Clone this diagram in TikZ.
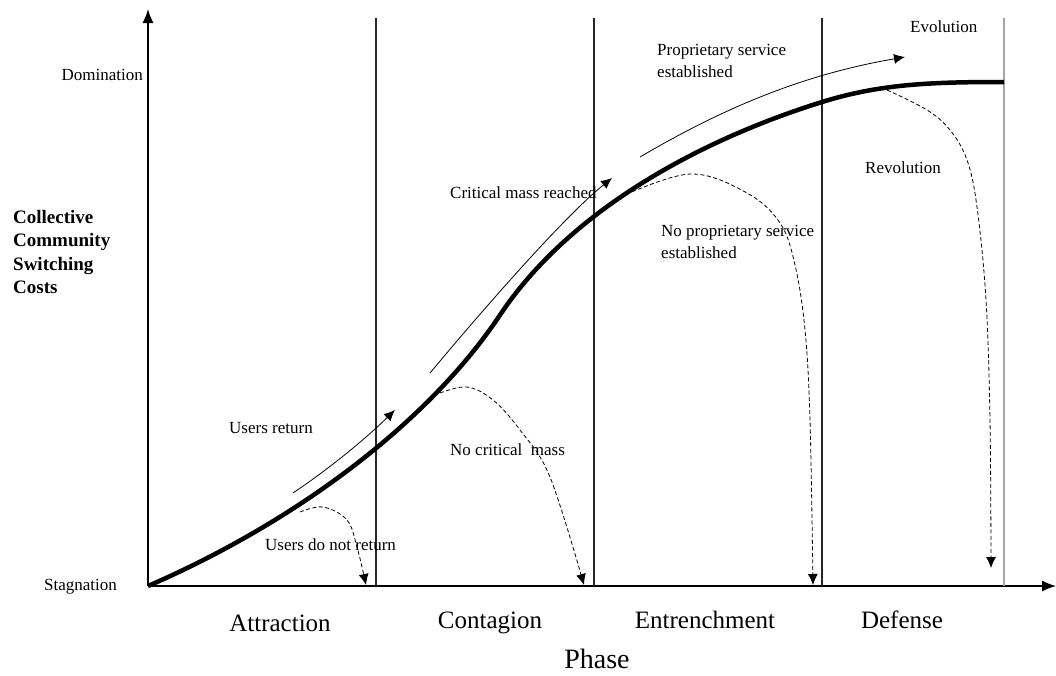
\documentclass[tikz,border=0pt]{standalone}
\usepackage{fontspec}
\setmainfont{Liberation Serif}
\usetikzlibrary{arrows.meta}
\tikzset{
  small/.style={font=\fontsize{17}{22}\selectfont, inner sep=0pt},
  phase/.style={font=\fontsize{25}{30}\selectfont, inner sep=0pt, anchor=base},
  divider/.style={line width=1.3pt, black!85},
  way/.style={-{Latex[length=11pt,width=10pt]}, line width=0.8pt},
  fail/.style={-{Latex[length=11pt,width=10pt]}, line width=0.8pt, dash pattern=on 4pt off 2.5pt},
}
\begin{document}
\begin{tikzpicture}[x=1pt,y=-1pt]
\useasboundingbox (0,0) rectangle (1056,675);
% axes
\coordinate (o) at (148,586);
\coordinate (ytop) at (148,9);
\coordinate (xend) at (1056,586);
\draw[line width=1.4pt, -{Latex[length=14pt,width=11pt]}] (o) -- (ytop);
\draw[line width=1.4pt, -{Latex[length=14pt,width=11pt]}] (o) -- (xend);
% phase borders
\draw[divider] (376,18) -- (376,586);
\draw[divider] (594,18) -- (594,586);
\draw[divider] (822,18) -- (822,586);
\draw[divider, black!35] (1004,18) -- (1004,586);
% the switching cost curve
\coordinate (bend) at (500,315);
\coordinate (top) at (822,102);
\draw[line width=4.5pt] (o) .. controls (300,520) and (430,420) .. (bend)
  .. controls (570,210) and (700,140) .. (top)
  .. controls (880,84) and (930,82) .. (1004,82);
% paths that go on
\draw[way] (293,493) .. controls (327,470) and (361,443) .. (395,410);
\draw[way] (430,373) .. controls (470,325) and (560,220) .. (612,178);
\draw[way] (640,157) .. controls (720,110) and (800,75) .. (905,57);
% paths that drop out
\draw[fail] plot[smooth, tension=0.6] coordinates {(300,512) (323,507) (347,520) (357,547) (366,585)};
\draw[fail] plot[smooth, tension=0.6] coordinates {(440,393) (467,387) (493,400) (520,430) (550,477) (584,585)};
\draw[fail] plot[smooth, tension=0.6] coordinates {(620,197) (690,174) (747,193) (780,223) (795,265) (805,330) (810,420) (813,585)};
\draw[fail] plot[smooth, tension=0.6] coordinates {(887,90) (927,110) (950,130) (967,160) (977,207) (986,300) (990,420) (991,568)};
% labels
\node[small, anchor=east] (dom) at (143,75) {Domination};
\node[small, anchor=east] (stag) at (117,587) {Stagnation};
\node[font=\bfseries\fontsize{19}{23.5}\selectfont, inner sep=0pt, align=left, anchor=north west] (costs) at (13,210) {Collective\\Community\\Switching\\Costs};
\node[small, anchor=west] (ret) at (229,428) {Users return};
\node[small, anchor=west] (noret) at (265,545) {Users do not return};
\node[small, anchor=west] (nocrit) at (450,450) {No critical\ \ mass};
\node[small, anchor=west] (crit) at (450,193) {Critical mass reached};
\node[small, anchor=west, align=left] (prop) at (657,61) {Proprietary service\\established};
\node[small, anchor=west, align=left] (noprop) at (661,242) {No proprietary service\\established};
\node[small, anchor=west] (evo) at (910,27) {Evolution};
\node[small, anchor=west] (revo) at (865,168) {Revolution};
\node[phase] (attr) at (280,631) {Attraction};
\node[phase] (cont) at (490,628) {Contagion};
\node[phase] (entr) at (705,628) {Entrenchment};
\node[phase] (def) at (902,628) {Defense};
\node[font=\fontsize{28}{34}\selectfont, inner sep=0pt, anchor=base] (ph) at (597,668) {Phase};
\end{tikzpicture}
\end{document}
